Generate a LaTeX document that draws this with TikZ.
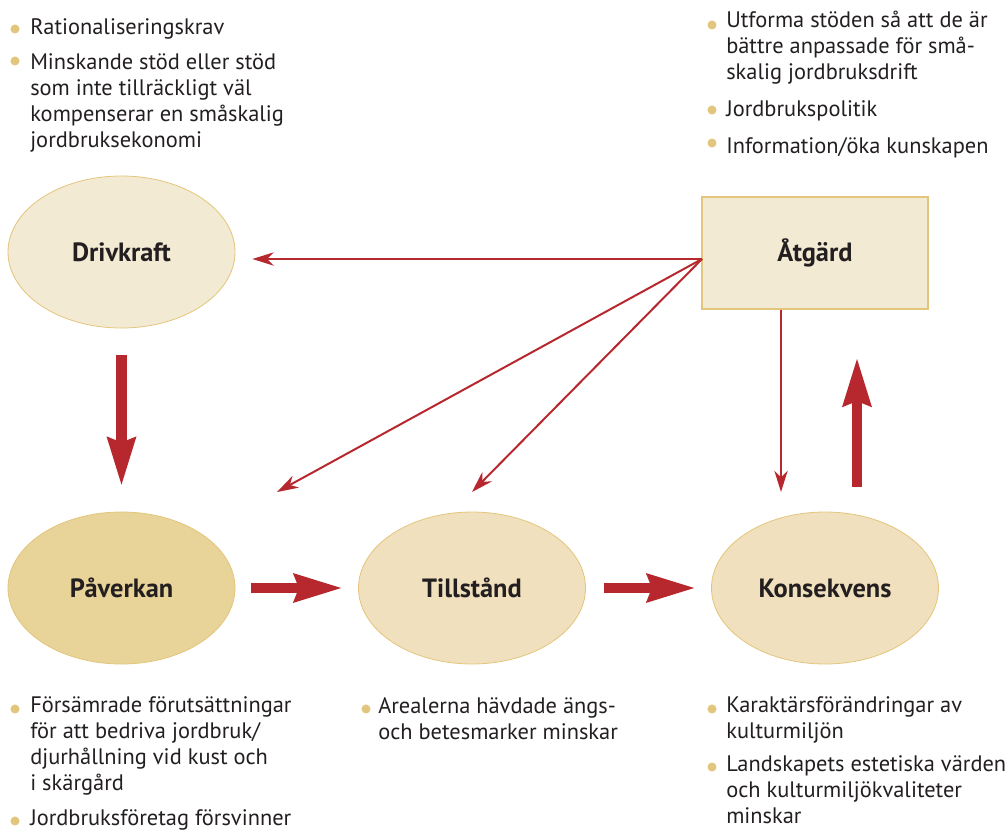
\documentclass[tikz,border=0pt]{standalone}
\usepackage{fontspec}
\setmainfont{PT Sans}
\usetikzlibrary{arrows.meta,shapes.geometric}

\definecolor{arrowred}{HTML}{B7282E}
\definecolor{rim}{HTML}{E3C57B}
\definecolor{dotgold}{HTML}{E3C67E}
\definecolor{pale}{HTML}{F3EAD4}
\definecolor{mid}{HTML}{F0E0BD}
\definecolor{deep}{HTML}{E8D399}
\definecolor{ink}{HTML}{231F20}

\newcommand\notesize{\fontsize{16.8pt}{19.5pt}\selectfont}
\newcommand\stagesize{\bfseries\fontsize{19.8pt}{23pt}\selectfont}

\tikzset{
  stage/.style={ellipse, draw=rim, line width=0.6pt, minimum width=170.25pt,
    minimum height=114pt, inner sep=0pt, font=\stagesize, text=ink},
  measure/.style={rectangle, draw=rim, line width=0.8pt, fill=pale,
    minimum width=169.5pt, minimum height=84pt, inner sep=0pt, font=\stagesize, text=ink},
  link/.style={draw=arrowred, line width=1.5pt, -{Stealth[length=16pt,width=10pt,inset=5pt]}},
  flow/.style={draw=arrowred, line width=8pt, -{Stealth[length=36pt,width=20pt,inset=3pt]}},
  notes/.style={anchor=north west, align=left, inner sep=0pt, font=\notesize, text=ink,
    execute at begin node=\strut},
  dot/.style={fill=dotgold}
}

\begin{document}
\begin{tikzpicture}[x=0.75pt,y=-0.75pt]
  \useasboundingbox (0,0) rectangle (1007,832);
  \draw
    (121.5,252) node[stage, fill=pale] (drivkraft) {Drivkraft}
    (121.5,588) node[stage, fill=deep] (paverkan) {Påverkan}
    (472,588) node[stage, fill=mid] (tillstand) {Tillstånd}
    (825,588) node[stage, fill=mid] (konsekvens) {Konsekvens}
    (815,253) node[measure] (atgard) {Åtgärd};
  \coordinate (src) at (702,259);
  \coordinate (ptip) at (277,492);
  \coordinate (ttip) at (472,492);
  \coordinate (ktip) at (781,492);
  \coordinate (upfoot) at (857,487);
  \coordinate (uptip) at (857,357);
  \begin{scope}[link]
    \draw[shorten >=12.75pt] (src) -- (src -| drivkraft.east);
    \draw (src) -- (ptip);
    \draw (src) -- (ttip);
    \draw (atgard.south -| ktip) -- (ktip);
  \end{scope}
  \begin{scope}[flow]
    \draw[shorten <=20pt, shorten >=18.75pt] (drivkraft) -- (paverkan);
    \draw[shorten <=12pt, shorten >=11.25pt] (paverkan) -- (tillstand);
    \draw[shorten <=13.5pt, shorten >=11.25pt] (tillstand) -- (konsekvens);
    \draw (upfoot) -- (uptip);
  \end{scope}
  % bullets
  \foreach \x/\y in {15/29, 15/61, 712/25, 712/110, 712/143,
                     15/709, 15/821, 366/709, 712/709, 712/767}
    \fill[dot] (\x,\y) circle (3.4pt);
  % driving forces
  \node[notes] (drivnote1) at (30,16.1) {Rationaliseringskrav};
  \node[notes] (drivnote2) at (30,53.5) {Minskande stöd eller stöd\\som inte tillräckligt väl\\kompenserar en småskalig\\jordbruksekonomi};
  % responses
  \node[notes] (atgnote1) at (726,11.1) {Utforma stöden så att de är\\bättre anpassade för små-\\skalig jordbruksdrift};
  \node[notes] (atgnote2) at (726,98.5) {Jordbrukspolitik};
  \node[notes] (atgnote3) at (726,135.1) {Information/öka kunskapen};
  % pressures, state, impacts
  \node[notes] (pavnote1) at (30,696.8) {Försämrade förutsättningar\\för att bedriva jordbruk/\\djurhållning vid kust och\\i skärgård};
  \node[notes] (pavnote2) at (30,806.8) {Jordbruksföretag försvinner};
  \node[notes] (tillnote1) at (378,696.8) {Arealerna hävdade ängs-\\och betesmarker minskar};
  \node[notes] (konsnote1) at (726,696.8) {Karaktärsförändringar av\\kulturmiljön};
  \node[notes] (konsnote2) at (726,755.1) {Landskapets estetiska värden\\och kulturmiljökvaliteter\\minskar};
\end{tikzpicture}
\end{document}
